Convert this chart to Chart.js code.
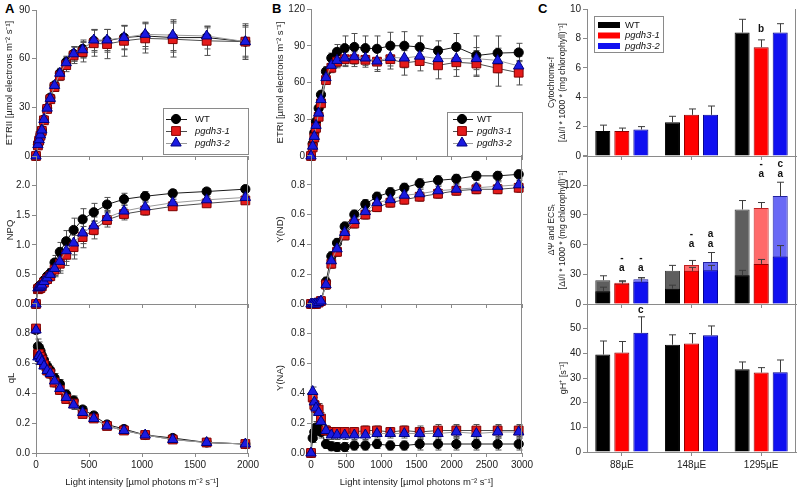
<!DOCTYPE html>
<html>
<head>
<meta charset="utf-8">
<title>pgdh3 photosynthesis</title>
<script src="https://cdn.jsdelivr.net/npm/chart.js@4.4.1/dist/chart.umd.min.js"></script>
<style>
  body { margin: 0; background: #fff; }
  #wrap { position: relative; width: 800px; height: 488px; overflow: hidden; }
  #wrap canvas { position: absolute; left: 0; top: 0; }
  .tag { position: absolute; font: bold 13px "Liberation Sans", Arial, sans-serif; color: #000; }
  .ytick { position: absolute; z-index: 3; font: 10px "Liberation Sans", Arial, sans-serif; line-height: 12px; color: #222; text-align: right; white-space: nowrap; }
</style>
</head>
<body>
<div id="wrap">
  <div class="tag" style="left:5px;top:1px">A</div>
  <div class="tag" style="left:272px;top:1px">B</div>
  <div class="tag" style="left:538px;top:1px">C</div>
</div>
<script>
const FONT = '"Liberation Sans", Arial, sans-serif';
const AXIS = '#8a8a8a';
const TXT = '#222';

const genotypes = ['WT', 'pgdh3-1', 'pgdh3-2'];

// ---- A: PSII light curve ----
const lightA = [0, 18, 30, 42, 55, 75, 105, 135, 175, 225, 285, 355, 440, 545, 670, 830, 1030, 1290, 1610, 1975];
const etr2WT = [0, 7, 10, 13, 16, 22.5, 29.5, 36, 43.5, 51, 58, 63, 66, 71, 71, 73, 74, 73, 73, 70.5];
const etr2P1 = [0, 6.5, 9.5, 12.5, 15.5, 22, 29, 35, 42.5, 49.5, 56, 62, 64, 69.5, 69, 71, 72.5, 72, 71, 70.5];
const etr2P2 = [0, 7, 10, 13, 16, 22.5, 29.5, 35.5, 43.5, 51, 57.5, 63, 65.5, 71.5, 71.5, 73, 75, 74.5, 74, 70.5];
const etr2ErrWT = [0, 0.5, 0.7, 0.8, 1, 1.2, 1.5, 2, 2.5, 3, 3.5, 4.5, 5.5, 7, 7, 7.5, 8, 9, 7, 11];
const etr2ErrP1 = [0, 0.5, 0.7, 0.8, 1, 1.2, 1.5, 2, 2.5, 3, 4, 5, 6, 8, 9, 9.5, 9, 11, 9, 10];
const etr2ErrP2 = [0, 0.5, 0.7, 0.8, 1, 1.2, 1.5, 2, 2.5, 3, 3.5, 4.5, 5, 6.5, 6.5, 7, 7.5, 9.5, 5, 9];

const npqWT = [0, 0.28, 0.3, 0.31, 0.34, 0.4, 0.47, 0.52, 0.7, 0.88, 1.06, 1.25, 1.43, 1.55, 1.68, 1.77, 1.82, 1.87, 1.9, 1.94];
const npqP1 = [0, 0.25, 0.26, 0.27, 0.3, 0.36, 0.42, 0.47, 0.58, 0.68, 0.83, 0.96, 1.13, 1.25, 1.42, 1.52, 1.58, 1.65, 1.7, 1.75];
const npqP2 = [0, 0.27, 0.28, 0.29, 0.32, 0.38, 0.44, 0.5, 0.6, 0.72, 0.9, 1.03, 1.2, 1.32, 1.46, 1.57, 1.64, 1.71, 1.76, 1.8];
const npqErr = [0, 0.03, 0.03, 0.03, 0.04, 0.05, 0.06, 0.08, 0.12, 0.16, 0.18, 0.2, 0.18, 0.15, 0.12, 0.1, 0.08, 0.06, 0.05, 0.05];

const qlWT = [0.82, 0.71, 0.7, 0.68, 0.65, 0.62, 0.58, 0.55, 0.5, 0.46, 0.39, 0.35, 0.29, 0.25, 0.19, 0.16, 0.12, 0.1, 0.07, 0.06];
const qlP1 = [0.83, 0.66, 0.66, 0.64, 0.62, 0.59, 0.55, 0.53, 0.47, 0.42, 0.36, 0.33, 0.26, 0.23, 0.18, 0.15, 0.12, 0.09, 0.07, 0.06];
const qlP2 = [0.82, 0.64, 0.65, 0.63, 0.61, 0.58, 0.55, 0.53, 0.48, 0.43, 0.37, 0.32, 0.27, 0.23, 0.18, 0.15, 0.12, 0.09, 0.07, 0.06];
const qlErr = [0.02, 0.05, 0.04, 0.04, 0.03, 0.03, 0.03, 0.03, 0.03, 0.03, 0.03, 0.03, 0.02, 0.02, 0.02, 0.02, 0.01, 0.01, 0.01, 0.01];

// ---- B: PSI light curve ----
const lightB = [0, 24, 47, 71, 109, 142, 213, 289, 370, 479, 616, 773, 938, 1128, 1327, 1545, 1806, 2066, 2351, 2654, 2953];
const etr1WT = [0, 10, 19, 28, 39, 50, 69, 80, 85, 88, 89, 88, 87.5, 90, 90, 89, 86, 89, 82, 84, 84.5];
const etr1P1 = [0, 7, 15, 23, 32, 43, 62, 72, 77, 79, 79, 78.5, 77, 79, 76, 77.5, 74, 76.5, 75.5, 71.5, 68];
const etr1P2 = [0, 8, 16, 25, 35, 46, 64, 74, 78, 80, 81, 80, 77.5, 80.5, 80, 81.5, 79.5, 79.5, 79.5, 78, 73.5];
const etr1ErrWT = [0, 1, 1.5, 2, 2.5, 3, 4, 4, 6, 10, 11, 10, 10.5, 11, 11.5, 9, 8, 11, 16, 14, 7.5];
const etr1ErrP1 = [0, 1, 1.5, 2, 2.5, 3, 3, 4, 5, 6, 6, 6, 8, 8, 10, 8, 11, 11.5, 10.5, 14.5, 10];
const etr1ErrP2 = [0, 1, 1.5, 2, 2.5, 3, 3, 4, 5, 6, 6, 6, 7, 7, 8, 7, 8, 9, 9, 10, 8];

const yndWT = [0, 0, 0, 0, 0.01, 0.02, 0.15, 0.32, 0.41, 0.52, 0.6, 0.67, 0.72, 0.75, 0.78, 0.81, 0.83, 0.84, 0.86, 0.86, 0.87];
const yndP1 = [0, 0, 0, 0, 0.01, 0.02, 0.13, 0.27, 0.35, 0.46, 0.54, 0.6, 0.65, 0.68, 0.7, 0.72, 0.74, 0.76, 0.77, 0.77, 0.78];
const yndP2 = [0, 0, 0, 0, 0.01, 0.02, 0.13, 0.29, 0.37, 0.48, 0.56, 0.62, 0.68, 0.7, 0.73, 0.74, 0.76, 0.77, 0.78, 0.79, 0.8];
const yndErr = [0, 0.005, 0.005, 0.01, 0.01, 0.01, 0.03, 0.03, 0.03, 0.03, 0.03, 0.03, 0.03, 0.03, 0.03, 0.03, 0.03, 0.03, 0.03, 0.03, 0.03];

const ynaWT = [0, 0.1, 0.14, 0.17, 0.17, 0.14, 0.06, 0.045, 0.04, 0.04, 0.05, 0.05, 0.06, 0.05, 0.05, 0.06, 0.06, 0.06, 0.06, 0.06, 0.06];
const ynaP1 = [0, 0.37, 0.32, 0.3, 0.29, 0.23, 0.15, 0.14, 0.14, 0.14, 0.14, 0.15, 0.15, 0.14, 0.15, 0.14, 0.15, 0.15, 0.15, 0.15, 0.15];
const ynaP2 = [0, 0.41, 0.34, 0.3, 0.27, 0.21, 0.15, 0.12, 0.12, 0.12, 0.12, 0.12, 0.13, 0.13, 0.13, 0.13, 0.13, 0.14, 0.13, 0.14, 0.14];
const ynaErr = [0, 0.03, 0.05, 0.04, 0.04, 0.04, 0.03, 0.03, 0.03, 0.03, 0.03, 0.03, 0.03, 0.03, 0.03, 0.04, 0.04, 0.04, 0.04, 0.04, 0.04];

// ---- C: bars per growth light ----
const treatments = ['88µE', '148µE', '1295µE'];
const cytfWT = [1.7, 2.3, 8.4], cytfP1 = [1.7, 2.8, 7.4], cytfP2 = [1.8, 2.8, 8.4];
const cytfErrWT = [0.4, 0.4, 0.9], cytfErrP1 = [0.2, 0.4, 0.5], cytfErrP2 = [0.2, 0.6, 0.6];
const dpsiWT = [13, 15.5, 29], dpsiP1 = [20.5, 33.5, 40.5], dpsiP2 = [22.5, 34, 48];
const dpsiErrWT = [4, 3.5, 5], dpsiErrP1 = [2, 3.5, 4.5], dpsiErrP2 = [4, 5, 11];
const ecsWT = [24, 33.5, 95.5], ecsP1 = [21.5, 39.5, 97], ecsP2 = [25, 42.5, 109];
const ecsErrWT = [4.5, 5.5, 9], ecsErrP1 = [2, 4.5, 5.5], ecsErrP2 = [1.5, 9.5, 14];
const ghWT = [39.5, 43.5, 33.5], ghP1 = [40.3, 44, 32.2], ghP2 = [48.3, 47.3, 32.3];
const ghErrWT = [5.5, 4, 3], ghErrP1 = [4.5, 4, 2], ghErrP2 = [6.5, 3.8, 5];
// significance letters [group][genotype]
const cytfMarks = [['', '', ''], ['', '', ''], ['', 'b', '']];
const ecsMarksTop = [['', '-', '-'], ['', '-', 'a'], ['', '-', 'c']];
const ecsMarksLow = [['', 'a', 'a'], ['', 'a', 'a'], ['', 'a', 'a']];
const ghMarks = [['', '', 'c'], ['', '', ''], ['', '', '']];

const look = [
  { shape: 'circle', r: 4.6, fill: '#000000', edge: '#000000', line: '#1a1a1a' },
  { shape: 'rect', r: 6.2, fill: '#e41a1a', edge: '#800000', line: '#4d4d4d' },
  { shape: 'triangle', r: 6, fill: '#1a1ae0', edge: '#000080', line: '#9a9a9a' }
];
const barFill = ['#000000', '#ff0000', '#1010f0'];
const barEdge = ['#000000', '#900000', '#000090'];
const barLight = ['#5e5e5e', '#ff6a6a', '#6a6af5'];
const barLightEdge = ['#3a3a3a', '#c02020', '#2020a0'];

function marker(ctx, s, x, y) {
  ctx.save();
  ctx.fillStyle = s.fill; ctx.strokeStyle = s.edge; ctx.lineWidth = 1;
  ctx.beginPath();
  if (s.shape === 'circle') {
    ctx.arc(x, y, s.r, 0, Math.PI * 2);
  } else if (s.shape === 'rect') {
    const h = s.r * Math.SQRT1_2;
    ctx.rect(x - h, y - h, 2 * h, 2 * h);
  } else {
    let a = 0;
    ctx.moveTo(x + Math.sin(a) * s.r, y - Math.cos(a) * s.r);
    a += 2 * Math.PI / 3;
    ctx.lineTo(x + Math.sin(a) * s.r, y - Math.cos(a) * s.r);
    a += 2 * Math.PI / 3;
    ctx.lineTo(x + Math.sin(a) * s.r, y - Math.cos(a) * s.r);
  }
  ctx.closePath(); ctx.fill(); ctx.stroke();
  ctx.restore();
}

function paintErrors(chart, upOnly) {
  const ctx = chart.ctx, ys = chart.scales.y;
  ctx.save();
  ctx.lineWidth = 1;
  chart.data.datasets.forEach((ds, i) => {
    if (!ds.err) return;
    ctx.strokeStyle = upOnly ? '#3c3c3c' : '#505050';
    chart.getDatasetMeta(i).data.forEach((pt, j) => {
      const e = ds.err[j];
      if (!e) return;
      const raw = ds.data[j];
      const v = typeof raw === 'object' ? raw.y : raw;
      const x = Math.round(pt.x) + 0.5;
      const top = ys.getPixelForValue(v + e);
      const bot = upOnly ? pt.y : ys.getPixelForValue(v - e);
      const cap = upOnly ? 3.5 : 3;
      ctx.beginPath();
      ctx.moveTo(x, bot); ctx.lineTo(x, top);
      ctx.moveTo(x - cap, top); ctx.lineTo(x + cap, top);
      if (!upOnly) { ctx.moveTo(x - cap, bot); ctx.lineTo(x + cap, bot); }
      ctx.stroke();
    });
  });
  ctx.restore();
}

const errorBars = {
  id: 'errorBars',
  beforeDatasetsDraw(chart) { if (chart.config.type === 'line') paintErrors(chart, false); },
  afterDatasetsDraw(chart) { if (chart.config.type === 'bar') paintErrors(chart, true); }
};

const keyBox = {
  id: 'keyBox',
  afterDraw(chart) {
    const o = chart.canvas.panelCfg.key;
    if (!o) return;
    const ctx = chart.ctx;
    const [l, t, r, b] = o.box;
    ctx.save();
    ctx.fillStyle = '#fff';
    ctx.fillRect(l, t, r - l, b - t);
    ctx.strokeStyle = '#8a8a8a'; ctx.lineWidth = 1;
    ctx.strokeRect(l + 0.5, t + 0.5, r - l - 1, b - t - 1);
    genotypes.forEach((g, k) => {
      const y = o.rows[k];
      if (o.bars) {
        ctx.fillStyle = barFill[k];
        ctx.fillRect(o.sw[0], y - o.sw[2] / 2, o.sw[1] - o.sw[0], o.sw[2]);
      } else {
        ctx.strokeStyle = look[k].line;
        ctx.beginPath();
        ctx.moveTo(o.line[0], Math.round(y) + 0.5); ctx.lineTo(o.line[1], Math.round(y) + 0.5);
        ctx.stroke();
        marker(ctx, look[k], o.mark, y);
      }
      ctx.fillStyle = '#111';
      ctx.font = (k ? 'italic ' : '') + o.size + 'px ' + FONT;
      ctx.textAlign = 'left'; ctx.textBaseline = 'middle';
      ctx.fillText(g, o.text, y);
    });
    ctx.restore();
  }
};

const marks = {
  id: 'marks',
  afterDatasetsDraw(chart) {
    const o = chart.canvas.panelCfg.marks;
    if (!o) return;
    const ctx = chart.ctx, ys = chart.scales.y;
    const ds = chart.data.datasets;
    const whisker = (i, g) => ys.getPixelForValue(ds[i].data[g] + (ds[i].err ? ds[i].err[g] : 0));
    ctx.save();
    ctx.font = 'bold 10px ' + FONT;
    ctx.fillStyle = '#111';
    ctx.textAlign = 'center'; ctx.textBaseline = 'middle';
    o.rows.forEach(row => {
      row.marks.forEach((grp, g) => grp.forEach((txt, k) => {
        if (!txt) return;
        const el = chart.getDatasetMeta(k).data[g];
        let ref;
        if (o.perGroup) {
          ref = Math.min(...ds.map((d, i) => whisker(i, g)));
        } else {
          ref = whisker(k, g);
        }
        ctx.fillText(txt, el.x, ref - row.lift);
      }));
    });
    ctx.restore();
  }
};

const frameRight = {
  id: 'frameRight',
  afterDraw(chart) {
    if (!chart.canvas.panelCfg.frame) return;
    const { right, top, bottom } = chart.chartArea;
    const ctx = chart.ctx;
    ctx.save();
    ctx.strokeStyle = AXIS; ctx.lineWidth = 1;
    ctx.beginPath();
    ctx.moveTo(Math.round(right) - 0.5, top); ctx.lineTo(Math.round(right) - 0.5, bottom);
    ctx.stroke();
    ctx.restore();
  }
};

function lineSets(xs, series, errs) {
  return series.map((v, k) => ({
    label: genotypes[k],
    data: xs.map((x, i) => ({ x: x, y: v[i] })),
    err: errs[k],
    borderColor: look[k].line, borderWidth: 1,
    pointStyle: look[k].shape, pointRadius: look[k].r,
    pointBackgroundColor: look[k].fill, pointBorderColor: look[k].edge, pointBorderWidth: 1,
    order: 2 - k, clip: false, tension: 0
  }));
}

function barSets(series, errs, light, order) {
  return series.map((v, k) => ({
    label: genotypes[k], data: v, err: errs[k],
    backgroundColor: light ? barLight[k] : barFill[k],
    borderColor: light ? barLightEdge[k] : barEdge[k],
    borderWidth: 1,
    categoryPercentage: 0.82, barPercentage: 0.79,
    stack: 's' + k, order: order || 0
  }));
}

function font(size) { return { family: FONT, size: size }; }

// tick labels as HTML text, placed from the chart's own y scale
function htmlTicks(chart, cfg) {
  const ys = chart.scales.y;
  const wrap = document.getElementById('wrap');
  ys.ticks.forEach(t => {
    if (t.value > cfg.y.show + 1e-9) return;
    const d = document.createElement('div');
    d.className = 'ytick';
    d.textContent = t.value.toFixed(cfg.y.dec);
    d.style.right = (800 - (ys.right - 6)) + 'px';
    d.style.top = (ys.getPixelForValue(t.value) - 6) + 'px';
    wrap.appendChild(d);
  });
}

function panel(cfg) {
  const cv = document.createElement('canvas');
  cv.width = 800; cv.height = 488;
  cv.panelCfg = cfg;
  document.getElementById('wrap').appendChild(cv);
  const [l, t, r, b] = cfg.rect;
  const tSize = cfg.titleSize || 9.5;
  const tickSize = cfg.tickSize || 10;
  const yLeft = cfg.titleX - tSize * 1.2 / 2;
  const yW = l - yLeft;
  const xH = cfg.xLabels ? 488 - b : 5;
  const isBar = cfg.type === 'bar';
  const x = isBar ? {
    type: 'category', offset: true, stacked: !!cfg.overlap,
    grid: { offset: false, drawOnChartArea: false, tickLength: 4, color: AXIS },
    ticks: { display: !!cfg.xLabels, font: font(tickSize), color: TXT, padding: 3 }
  } : {
    type: 'linear', min: 0, max: cfg.xMax,
    grid: { drawOnChartArea: false, tickLength: 4, color: AXIS },
    ticks: { stepSize: 500, display: !!cfg.xLabels, font: font(tickSize), color: TXT, padding: 2,
      maxRotation: 0, autoSkip: false, callback: v => String(v) }
  };
  x.border = { color: AXIS };
  x.title = { display: !!cfg.xTitle, text: cfg.xTitle || '', font: font(tSize), color: TXT, padding: 0 };
  x.afterFit = s => { s.height = xH; };
  const yc = cfg.y;
  const y = {
    min: yc.min, max: yc.max, stacked: false,
    grid: { drawOnChartArea: false, tickLength: 4, color: AXIS }, border: { color: AXIS },
    ticks: {
      stepSize: yc.step, font: font(tickSize), color: TXT, padding: 2, autoSkip: false,
      callback: v => (cfg.htmlTicks || v > yc.show + 1e-9) ? '' : v.toFixed(yc.dec)
    },
    title: { display: true, text: cfg.yTitle, font: font(tSize), color: TXT, padding: 0 },
    afterFit: s => { s.width = yW; }
  };
  const chart = new Chart(cv, {
    type: cfg.type,
    data: { labels: cfg.labels, datasets: cfg.datasets },
    options: {
      responsive: false, animation: false, events: [],
      layout: { autoPadding: false, padding: { left: yLeft, top: t, right: 800 - r, bottom: 488 - b - xH } },
      plugins: { legend: { display: false }, tooltip: { enabled: false } },
      scales: { x: x, y: y }
    },
    plugins: [errorBars, marks, keyBox, frameRight]
  });
  if (cfg.htmlTicks) htmlTicks(chart, cfg);
}

const etrUnit = ' [µmol electrons m⁻² s⁻¹]';
const lightTitle = 'Light intensity [µmol photons m⁻² s⁻¹]';
const ecsUnit = '[ΔI/I * 1000 * (mg chlorophyll)⁻¹]';

// column A
panel({ type: 'line', rect: [36, 10, 248, 156], titleX: 9.5, xMax: 2000,
  yTitle: 'ETRII' + etrUnit, y: { min: 0, max: 90, step: 30, show: 90, dec: 0 },
  datasets: lineSets(lightA, [etr2WT, etr2P1, etr2P2], [etr2ErrWT, etr2ErrP1, etr2ErrP2]),
  key: { box: [163, 108, 249, 155], rows: [119, 131, 143], line: [166, 187], mark: 176, text: 195, size: 9.5 } });
panel({ type: 'line', rect: [36, 156, 248, 304], titleX: 10.5, xMax: 2000, frame: true,
  yTitle: 'NPQ', y: { min: 0, max: 2.5, step: 0.5, show: 2.0, dec: 1 },
  datasets: lineSets(lightA, [npqWT, npqP1, npqP2], [npqErr, npqErr, npqErr]) });
panel({ type: 'line', rect: [36, 303, 248, 453], titleX: 11, xMax: 2000, frame: true,
  xLabels: true, xTitle: lightTitle,
  yTitle: 'qL', y: { min: 0, max: 1, step: 0.2, show: 0.8, dec: 1 },
  datasets: lineSets(lightA, [qlWT, qlP1, qlP2], [qlErr, qlErr, qlErr]) });

// column B
panel({ type: 'line', rect: [311, 9, 522, 156], titleX: 280, xMax: 3000,
  yTitle: 'ETRI' + etrUnit, y: { min: 0, max: 120, step: 30, show: 120, dec: 0 },
  datasets: lineSets(lightB, [etr1WT, etr1P1, etr1P2], [etr1ErrWT, etr1ErrP1, etr1ErrP2]),
  key: { box: [447, 112, 523, 157], rows: [119, 131, 143], line: [453, 473], mark: 462, text: 477, size: 9.5 } });
panel({ type: 'line', rect: [311, 155, 522, 304], titleX: 280, xMax: 3000, frame: true,
  yTitle: 'Y(ND)', y: { min: 0, max: 1, step: 0.2, show: 0.8, dec: 1 },
  datasets: lineSets(lightB, [yndWT, yndP1, yndP2], [yndErr, yndErr, yndErr]) });
panel({ type: 'line', rect: [311, 303, 522, 453], titleX: 280, xMax: 3000, frame: true,
  xLabels: true, xTitle: lightTitle,
  yTitle: 'Y(NA)', y: { min: 0, max: 1, step: 0.2, show: 0.8, dec: 1 },
  datasets: lineSets(lightB, [ynaWT, ynaP1, ynaP2], [ynaErr, ynaErr, ynaErr]) });

// column C
panel({ type: 'bar', rect: [587, 9, 796, 156], titleX: 552, titleSize: 8.5, labels: treatments, frame: true,
  yTitle: ['Cytochrome-f', ecsUnit], y: { min: 0, max: 10, step: 2, show: 10, dec: 0 },
  datasets: barSets([cytfWT, cytfP1, cytfP2], [cytfErrWT, cytfErrP1, cytfErrP2]),
  marks: { rows: [{ marks: cytfMarks, lift: 11 }] },
  key: { bars: true, box: [594, 16, 664, 53], rows: [25, 35.5, 46], sw: [598, 620, 6], text: 625, size: 9.5 } });
panel({ type: 'bar', rect: [587, 155.5, 796, 304], titleX: 552, titleSize: 8.5, labels: treatments, frame: true,
  overlap: true, htmlTicks: true,
  yTitle: ['ΔΨ and ECSₜ', ecsUnit], y: { min: 0, max: 150, step: 30, show: 120, dec: 0 },
  datasets: barSets([dpsiWT, dpsiP1, dpsiP2], [dpsiErrWT, dpsiErrP1, dpsiErrP2], false, 0)
    .concat(barSets([ecsWT, ecsP1, ecsP2], [ecsErrWT, ecsErrP1, ecsErrP2], true, 1)),
  marks: { perGroup: true, rows: [{ marks: ecsMarksTop, lift: 18 }, { marks: ecsMarksLow, lift: 8 }] } });
panel({ type: 'bar', rect: [587, 304, 796, 452], titleX: 564, titleSize: 9, labels: treatments, frame: true, xLabels: true,
  yTitle: 'gH⁺ [s⁻¹]', y: { min: 0, max: 60, step: 10, show: 50, dec: 0 },
  datasets: barSets([ghWT, ghP1, ghP2], [ghErrWT, ghErrP1, ghErrP2]),
  marks: { rows: [{ marks: ghMarks, lift: 7 }] } });
</script>
</body>
</html>
